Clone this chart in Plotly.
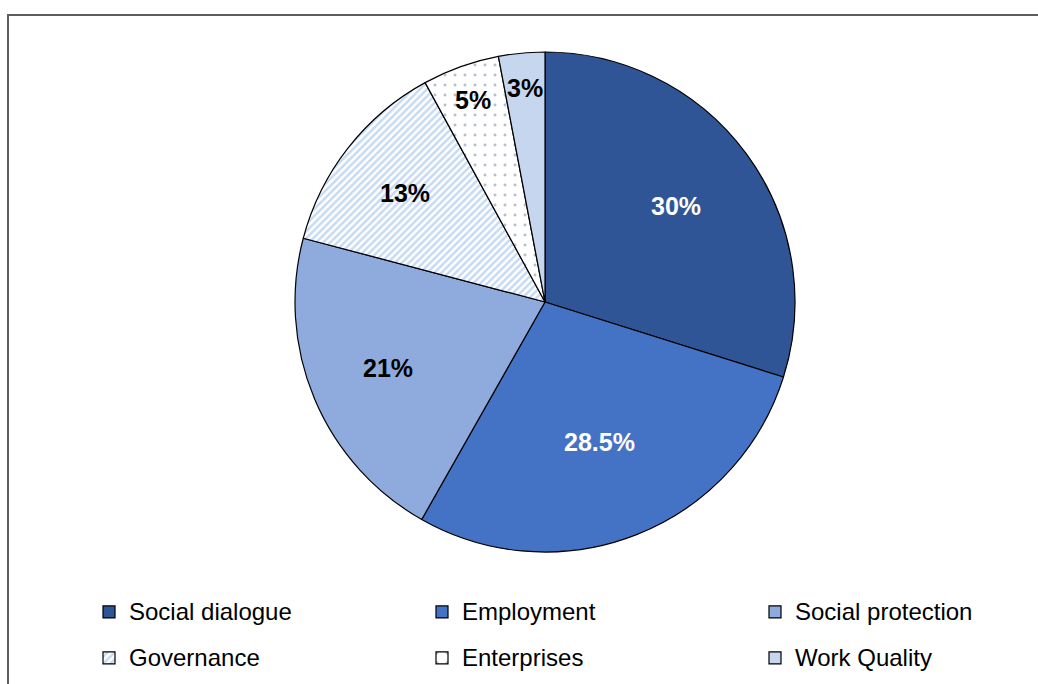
import math
import plotly.graph_objects as go

# Share of activities by thematic area
categories = ["Social dialogue", "Employment", "Social protection",
              "Governance", "Enterprises", "Work Quality"]
shares = [30, 28.5, 21, 13, 5, 3]
share_labels = ["30%", "28.5%", "21%", "13%", "5%", "3%"]

W, H = 1038, 684
CX, CY, R = 545, 302, 250          # pie centre and radius, in pixels

FONT = "Liberation Sans, Arial, sans-serif"

fill_colors = ["#2F5597", "#4472C4", "#8FAADC", "#FFFFFF", "#FFFFFF", "#C6D6EE"]
pattern_shapes = ["", "", "", "/", ".", ""]
pattern_fg = ["#000000", "#000000", "#000000", "#8DB6E8", "#6F7F99", "#000000"]
pattern_size = [8, 8, 8, 5, 10, 8]
pattern_solidity = [0.3, 0.3, 0.3, 0.5, 0.07, 0.3]
label_colors = ["white", "white", "black", "black", "black", "black"]
label_radius = [0.65, 0.60, 0.68, 0.71, 0.86, 0.86]   # fraction of pie radius

# Legend text is drawn smaller than the legend font so rows get extra spacing
LEGEND_TEXT_SIZE = 24
legend_labels = [
    f'<span style="font-size:{LEGEND_TEXT_SIZE}px;baseline-shift:5px">{c}</span>'
    for c in categories
]

fig = go.Figure()
fig.add_trace(go.Pie(
    labels=legend_labels,
    values=shares,
    sort=False,
    direction="clockwise",
    rotation=0,
    textinfo="none",
    customdata=categories,
    hovertemplate="%{customdata}: %{percent}<extra></extra>",
    marker=dict(
        colors=fill_colors,
        line=dict(color="#000000", width=1.2),
        pattern=dict(shape=pattern_shapes, fgcolor=pattern_fg, bgcolor=fill_colors,
                     size=pattern_size, solidity=pattern_solidity, fillmode="overlay"),
    ),
    domain=dict(x=[(CX - R) / W, (CX + R) / W],
                y=[1 - (CY + R) / H, 1 - (CY - R) / H]),
))

# Percentage labels placed along each slice's mid-angle
total = sum(shares)
cum = 0.0
annotations = []
for v, txt, col, rf in zip(shares, share_labels, label_colors, label_radius):
    mid = (cum + v / 2) / total * 2 * math.pi
    cum += v
    px = CX + rf * R * math.sin(mid)
    py = CY - rf * R * math.cos(mid)
    annotations.append(dict(
        x=px / W, y=1 - py / H, xref="paper", yref="paper",
        text=txt, showarrow=False, xanchor="center", yanchor="middle",
        font=dict(family=FONT, size=25, color=col, weight="bold"),
    ))

# Chart-area frame (left and top edges)
frame_left, frame_top = 8, 15
shapes = [dict(
    type="path", xref="paper", yref="paper",
    path=f"M {frame_left / W} 0 L {frame_left / W} {1 - frame_top / H} L 1 {1 - frame_top / H}",
    line=dict(color="#5E5E5E", width=2),
)]

fig.update_layout(
    width=W, height=H,
    margin=dict(l=0, r=0, t=0, b=0, autoexpand=False),
    paper_bgcolor="white",
    plot_bgcolor="white",
    font=dict(family=FONT, color="black"),
    annotations=annotations,
    shapes=shapes,
    showlegend=True,
    legend=dict(
        orientation="h",
        x=89 / W, xanchor="left",
        y=1 - 584 / H, yanchor="top",
        entrywidth=288, entrywidthmode="pixels",
        font=dict(family=FONT, size=33, color="black"),
        traceorder="normal",
        bgcolor="rgba(0,0,0,0)",
    ),
)

fig.write_html("out.html")
